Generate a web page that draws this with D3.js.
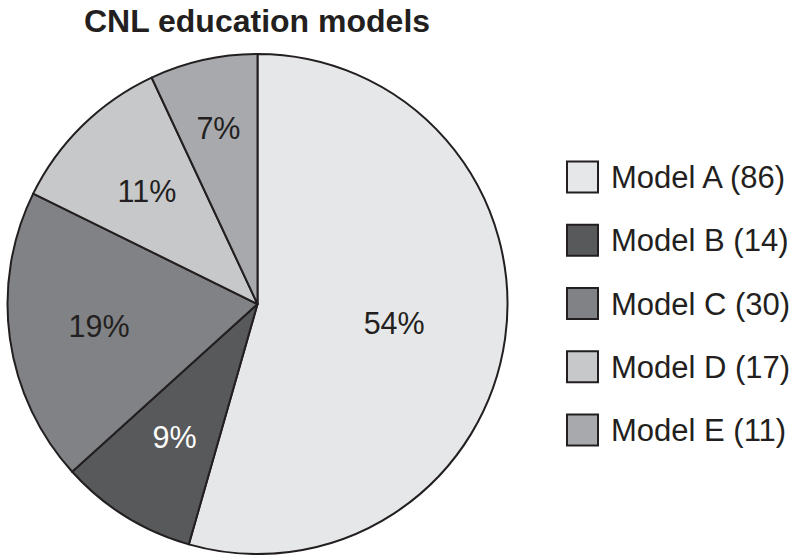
<!DOCTYPE html>
<html>
<head>
<meta charset="utf-8">
<script src="https://cdn.jsdelivr.net/npm/d3@7"></script>
<style>
  body { margin: 0; background: #fff; }
  text { font-family: "Liberation Sans", Arial, Helvetica, sans-serif; fill: #231f20; }
</style>
</head>
<body>
<div id="chart"></div>
<script>
const models = ["Model A", "Model B", "Model C", "Model D", "Model E"];
const counts = [86, 14, 30, 17, 11];
const colors = ["#e6e7e8", "#58595b", "#808285", "#c7c8ca", "#a7a9ac"];
const labelColors = ["#231f20", "#ffffff", "#231f20", "#231f20", "#231f20"];

const width = 797, height = 555;
const cx = 257.5, cy = 304, radius = 250;
// label distance from the centre, per slice (as placed in the reference)
const labelRadius = [138, 157, 160, 158, 180];

const svg = d3.select("#chart")
  .append("svg")
  .attr("width", width)
  .attr("height", height);

svg.append("text")
  .attr("x", 257)
  .attr("y", 32)
  .attr("text-anchor", "middle")
  .style("font-size", "32px")
  .style("font-weight", "bold")
  .text("CNL education models");

const total = d3.sum(counts);
const pie = d3.pie().sort(null).value(d => d);
const arcs = pie(counts);
const arc = d3.arc().innerRadius(0).outerRadius(radius);

const g = svg.append("g").attr("transform", `translate(${cx},${cy})`);

g.selectAll("path")
  .data(arcs)
  .join("path")
  .attr("d", arc)
  .attr("fill", (d, i) => colors[i])
  .attr("stroke", "#231f20")
  .attr("stroke-width", 2)
  .attr("stroke-linejoin", "round");

g.selectAll("text.pct")
  .data(arcs)
  .join("text")
  .attr("class", "pct")
  .attr("transform", (d, i) => {
    const c = d3.arc().innerRadius(labelRadius[i]).outerRadius(labelRadius[i]).centroid(d);
    return `translate(${c[0]},${c[1]})`;
  })
  .attr("text-anchor", "middle")
  .attr("dy", "0.36em")
  .style("font-size", "30.5px")
  .style("fill", (d, i) => labelColors[i])
  .text(d => Math.round(d.data / total * 100) + "%");

// legend
const legendY = d3.scalePoint().domain(models).range([177, 430]);

const legend = svg.append("g")
  .selectAll("g")
  .data(models)
  .join("g")
  .attr("transform", d => `translate(567,${legendY(d)})`);

legend.append("rect")
  .attr("x", 0)
  .attr("y", -15.5)
  .attr("width", 31)
  .attr("height", 31)
  .attr("fill", (d, i) => colors[i])
  .attr("stroke", "#231f20")
  .attr("stroke-width", 2);

legend.append("text")
  .attr("x", 44)
  .attr("y", 11)
  .style("font-size", "31px")
  .text((d, i) => `${d} (${counts[i]})`);
</script>
</body>
</html>
